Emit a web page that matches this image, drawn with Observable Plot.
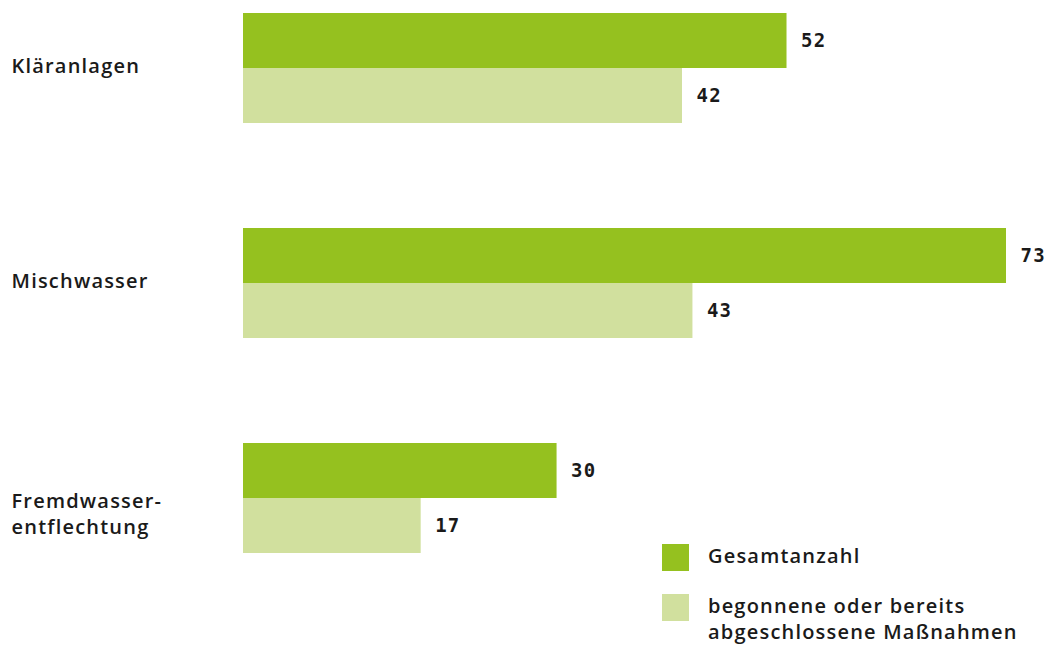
<!DOCTYPE html>
<html>
<head>
<meta charset="utf-8">
<script src="https://cdn.jsdelivr.net/npm/d3@7"></script>
<script src="https://cdn.jsdelivr.net/npm/@observablehq/plot@0.6"></script>
<style>
  html, body { margin: 0; padding: 0; background: #fff; overflow: hidden; width: 1051px; height: 645px; }
  body { position: relative; font-family: "Open Sans", sans-serif; color: #1a1a1a; }
  #chart { position: absolute; left: 0; top: 0; }
  .legend { position: absolute; left: 662px; font-size: 20px; font-weight: 600; letter-spacing: 1.2px; line-height: 26px; }
  .legend .sw { position: absolute; left: 0; top: 0; width: 27px; height: 27px; }
  .legend .lb { position: absolute; left: 46px; top: -1px; white-space: nowrap; }
</style>
</head>
<body>
<div id="chart"></div>
<div id="legend"></div>
<script>
const categories = ["Kläranlagen", "Mischwasser", "Fremdwasser-\nentflechtung"];
const series = ["Gesamtanzahl", "begonnene oder bereits\nabgeschlossene Maßnahmen"];
const gesamt = [52, 73, 30];
const begonnen = [42, 43, 17];
const colors = ["#95c11f", "#d1e09e"];

const data = [];
categories.forEach((c, i) => {
  data.push({cat: c, series: series[0], value: gesamt[i]});
  data.push({cat: c, series: series[1], value: begonnen[i]});
});

const labelStyle = {fontFamily: "'Open Sans', sans-serif", fontSize: 20, fontWeight: 600, fill: "#1a1a1a"};
const valueStyle = {fontFamily: "'DejaVu Sans Mono', monospace", fontSize: 19, fontWeight: "bold", fill: "#1a1a1a"};

const singleLine = categories.filter(c => !c.includes("\n"));
const multiLine = categories.filter(c => c.includes("\n"));

const chart = Plot.plot({
  width: 1051,
  height: 645,
  marginLeft: 243,
  marginRight: 45,
  marginTop: 12,
  marginBottom: 92,
  style: {letterSpacing: "1.2px"},
  x: {domain: [0, 73], axis: null},
  y: {domain: series, padding: 0, axis: null},
  fy: {domain: categories, paddingInner: 0.49, paddingOuter: 0, axis: null},
  color: {domain: series, range: colors},
  marks: [
    Plot.barX(data, {x: "value", y: "series", fy: "cat", fill: "series"}),
    Plot.text(data, {x: "value", y: "series", fy: "cat", text: d => String(d.value), textAnchor: "start", dx: 14, ...valueStyle}),
    Plot.text(singleLine, {fy: d => d, text: d => d, frameAnchor: "left", textAnchor: "start", dx: -232, dy: -2, ...labelStyle}),
    Plot.text(multiLine, {fy: d => d, text: d => d, frameAnchor: "left", textAnchor: "start", dx: -232, dy: 14, lineHeight: 1.3, ...labelStyle})
  ]
});
document.getElementById("chart").appendChild(chart);

const legend = document.getElementById("legend");
const tops = [544, 594];
series.forEach((s, i) => {
  const item = document.createElement("div");
  item.className = "legend";
  item.style.top = tops[i] + "px";
  const sw = document.createElement("div");
  sw.className = "sw";
  sw.style.background = colors[i];
  const lb = document.createElement("div");
  lb.className = "lb";
  lb.innerHTML = s.split("\n").join("<br>");
  item.appendChild(sw);
  item.appendChild(lb);
  legend.appendChild(item);
});
</script>
</body>
</html>
